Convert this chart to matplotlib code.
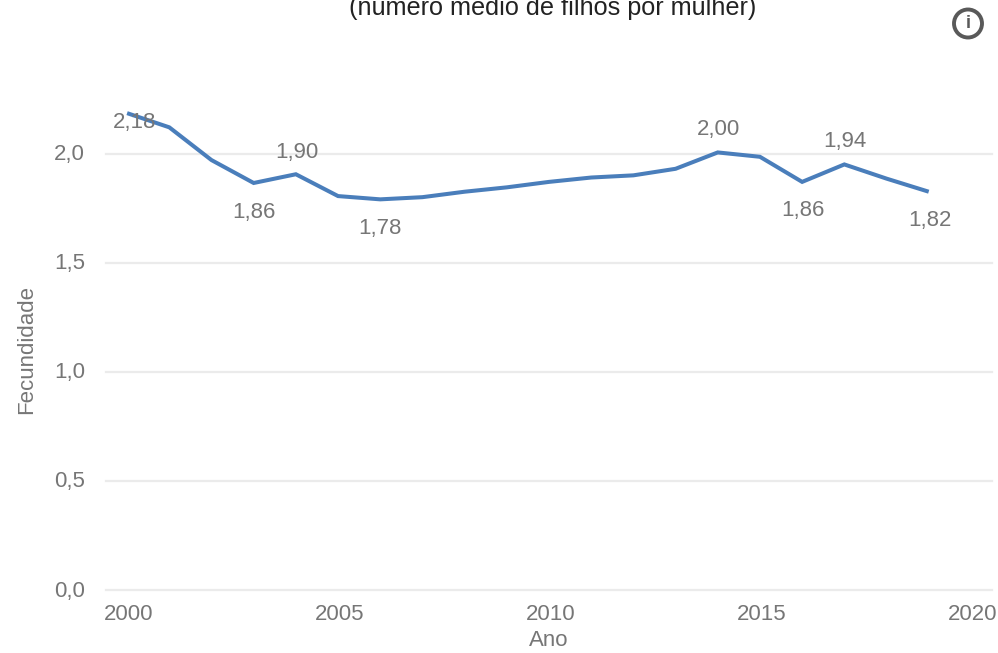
import matplotlib
matplotlib.use('Agg')
import matplotlib.pyplot as plt
from matplotlib.patches import Circle
from matplotlib.transforms import ScaledTranslation

plt.rcParams['font.family'] = ['Liberation Sans', 'DejaVu Sans']

# Data
years = [2000, 2001, 2002, 2003, 2004, 2005, 2006, 2007, 2008, 2009,
         2010, 2011, 2012, 2013, 2014, 2015, 2016, 2017, 2018, 2019]
fertility = [2.185, 2.12, 1.97, 1.865, 1.905, 1.805, 1.79, 1.80, 1.825, 1.845,
             1.87, 1.89, 1.90, 1.93, 2.005, 1.985, 1.87, 1.95, 1.885, 1.825]
x_ticks = [2000, 2005, 2010, 2015, 2020]
y_ticks = [0.0, 0.5, 1.0, 1.5, 2.0]
y_tick_labels = ['0,0', '0,5', '1,0', '1,5', '2,0']
labelled_years = [2000, 2003, 2004, 2006, 2014, 2016, 2017, 2019]
point_labels = ['2,18', '1,86', '1,90', '1,78', '2,00', '1,86', '1,94', '1,82']
# label offset from the point, in pixels (right, up)
label_offsets = [(7, -9), (0, -30), (1, 22), (0, -29), (1, 23), (1, -29), (1, 23), (1, -29)]

W, H = 998, 653
grey = '#767676'

fig = plt.figure(figsize=(W / 100, H / 100), dpi=100)
ax = fig.add_axes([106 / W, 1 - 590 / H, 886 / W, 545.6 / H])

ax.plot(years, fertility, color='#4a7ebb', linewidth=2.9, zorder=3,
        solid_joinstyle='miter', solid_capstyle='butt')

ax.set_xlim(1999.5, 2020.5)
ax.set_ylim(0, 2.5)
ax.set_xticks(x_ticks)
ax.set_yticks(y_ticks)
ax.set_yticklabels(y_tick_labels)
ax.tick_params(axis='both', length=0, labelsize=16, labelcolor=grey)
ax.tick_params(axis='x', pad=10)
ax.tick_params(axis='y', pad=15)
ax.grid(axis='y', color='#ebebeb', linewidth=1.6, clip_on=False)
ax.set_axisbelow(True)
for side in ax.spines.values():
    side.set_visible(False)

# nudge tick labels to where the original has them
for lab in ax.get_yticklabels():
    lab.set_transform(lab.get_transform() + ScaledTranslation(0, 1.5 / 100, fig.dpi_scale_trans))
for lab in ax.get_xticklabels():
    lab.set_transform(lab.get_transform() + ScaledTranslation(1.5 / 100, 0, fig.dpi_scale_trans))

fig.text(549 / W, 1 - 641 / H, 'Ano', fontsize=16, color=grey, ha='center', va='center')
fig.text(27 / W, 1 - 349 / H, 'Fecundidade', fontsize=16, color=grey, ha='center', va='center',
         rotation=90)

# Point labels
for yr, txt, (dx, dy) in zip(labelled_years, point_labels, label_offsets):
    val = fertility[years.index(yr)]
    ax.annotate(txt, (yr, val), xytext=(dx * 0.72, dy * 0.72), textcoords='offset points',
                ha='center', va='center', fontsize=16, color=grey, zorder=4)

# Title is cut off by the top edge
fig.text(553 / W, 1 - 15 / H, '(número médio de filhos por mulher)', ha='center', va='baseline',
         fontsize=18.2, color='#222222')

# Info icon
fig.add_artist(Circle((968, H - 23.5), 14, transform=None, facecolor='white',
                      edgecolor='#595959', linewidth=2.8))
fig.text(968 / W, 1 - 23.5 / H, 'i', ha='center', va='center', fontsize=13,
         fontweight='bold', color='#595959')

fig.savefig('out.png', dpi=100)
